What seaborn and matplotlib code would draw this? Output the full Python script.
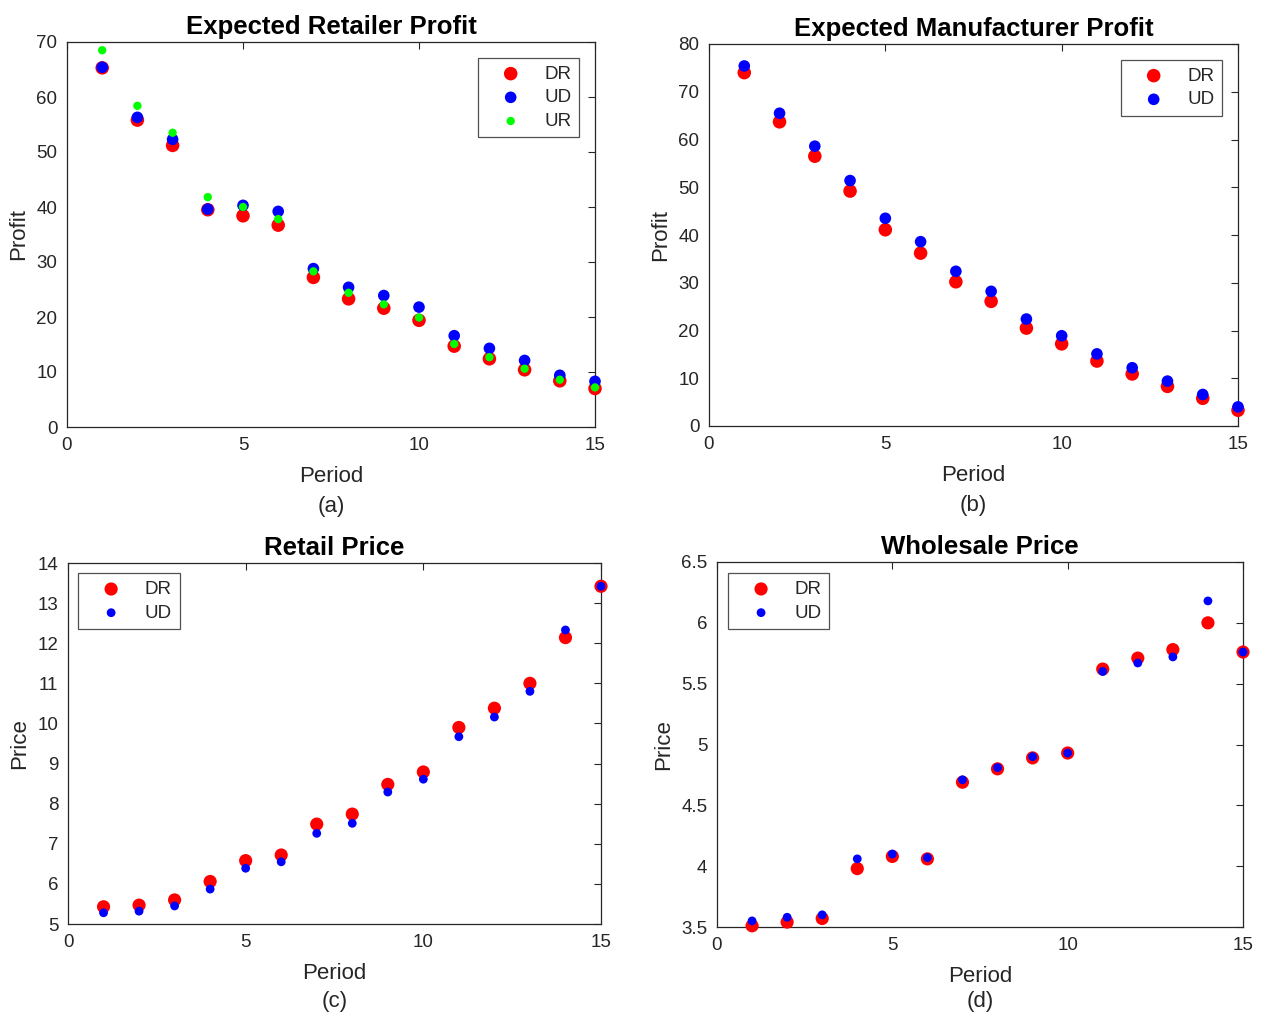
import numpy as np
import pandas as pd
import seaborn as sns
import matplotlib.pyplot as plt
from matplotlib.ticker import FuncFormatter, MultipleLocator

periods = list(range(1, 16))

# (a) expected retailer profit
ret_dr = [65.3, 55.8, 51.2, 39.5, 38.4, 36.7, 27.2, 23.3, 21.6, 19.4, 14.7, 12.4, 10.4, 8.4, 7.0]
ret_ud = [65.4, 56.3, 52.3, 39.6, 40.3, 39.2, 28.8, 25.4, 23.9, 21.8, 16.6, 14.3, 12.1, 9.4, 8.3]
ret_ur = [68.5, 58.4, 53.5, 41.8, 40.0, 37.8, 28.3, 24.4, 22.3, 19.9, 15.1, 12.7, 10.6, 8.6, 7.2]

# (b) expected manufacturer profit
man_dr = [74.0, 63.7, 56.5, 49.2, 41.1, 36.2, 30.2, 26.1, 20.5, 17.2, 13.6, 10.9, 8.3, 5.8, 3.3]
man_ud = [75.4, 65.5, 58.6, 51.4, 43.5, 38.6, 32.4, 28.2, 22.4, 18.9, 15.1, 12.2, 9.4, 6.6, 4.0]

# (c) retail price
rp_dr = [5.43, 5.47, 5.60, 6.06, 6.58, 6.72, 7.49, 7.74, 8.48, 8.79, 9.90, 10.38, 11.00, 12.14, 13.42]
rp_ud = [5.28, 5.32, 5.45, 5.87, 6.39, 6.55, 7.26, 7.51, 8.29, 8.61, 9.67, 10.16, 10.80, 12.33, 13.42]

# (d) wholesale price
wp_dr = [3.51, 3.54, 3.57, 3.98, 4.08, 4.06, 4.69, 4.80, 4.89, 4.93, 5.62, 5.71, 5.78, 6.00, 5.76]
wp_ud = [3.55, 3.58, 3.60, 4.06, 4.10, 4.07, 4.71, 4.81, 4.90, 4.93, 5.60, 5.67, 5.72, 6.18, 5.76]

sns.set_style('white')
plt.rcParams['font.family'] = ['Liberation Sans', 'DejaVu Sans']

W, H = 1261, 1015
fig = plt.figure(figsize=(W / 100, H / 100), dpi=100)


def make_ax(l, r, t, b):
    return fig.add_axes([l / W, 1 - b / H, (r - l) / W, (b - t) / H])


def style(ax, title, ylabel, cap, ylim, ystep, loc, bpad, cap_off=-50):
    ax.set_xlim(0, 15)
    ax.set_ylim(*ylim)
    ax.xaxis.set_major_locator(MultipleLocator(5))
    ax.yaxis.set_major_locator(MultipleLocator(ystep))
    ax.yaxis.set_major_formatter(FuncFormatter(lambda v, p: '%g' % round(v, 3)))
    ax.tick_params(direction='in', top=True, right=True, length=5, width=0.8,
                   labelsize=13.5, colors='#262626', pad=7)
    for s in ax.spines.values():
        s.set_color('#262626')
        s.set_linewidth(0.9)
    ax.set_title(title, fontsize=18.5, fontweight='bold', color='black', pad=6)
    ax.set_xlabel('Period', fontsize=16, color='#262626', labelpad=9)
    ax.set_ylabel(ylabel, fontsize=16, color='#262626', labelpad=5)
    ax.annotate(cap, xy=(0.5, 0), xycoords='axes fraction', xytext=(0, cap_off),
                textcoords='offset points', ha='center', va='top',
                fontsize=16, color='#262626')
    leg = ax.legend(loc=loc, fontsize=13.5, frameon=True, fancybox=False,
                    handletextpad=0.45, borderpad=0.4, labelspacing=0.35,
                    handlelength=2.7, borderaxespad=bpad)
    leg.get_frame().set_edgecolor('#262626')
    leg.get_frame().set_linewidth(0.9)


def dots(ax, y, color, s, label):
    sns.scatterplot(x=periods, y=y, ax=ax, color=color, s=s, edgecolor='none',
                    linewidth=0, label=label, zorder=3)
    ax.collections[-1].set_clip_on(False)


ax_a = make_ax(67, 595, 42, 427)
dots(ax_a, ret_dr, '#ff0000', 95, 'DR')
dots(ax_a, ret_ud, '#0000ff', 70, 'UD')
dots(ax_a, ret_ur, '#00ff00', 36, 'UR')
style(ax_a, 'Expected Retailer Profit', 'Profit', '(a)', (0, 70), 10, 'upper right', 0.85)

ax_b = make_ax(709, 1238, 44, 426)
dots(ax_b, man_dr, '#ff0000', 95, 'DR')
dots(ax_b, man_ud, '#0000ff', 70, 'UD')
style(ax_b, 'Expected Manufacturer Profit', 'Profit', '(b)', (0, 80), 10, 'upper right', 0.85)

ax_c = make_ax(68, 601, 563, 924)
dots(ax_c, rp_dr, '#ff0000', 90, 'DR')
dots(ax_c, rp_ud, '#0000ff', 40, 'UD')
style(ax_c, 'Retail Price', 'Price', '(c)', (5, 14), 1, 'upper left', 0.55, cap_off=-48)

ax_d = make_ax(717, 1243, 562, 927)
dots(ax_d, wp_dr, '#ff0000', 90, 'DR')
dots(ax_d, wp_ud, '#0000ff', 40, 'UD')
style(ax_d, 'Wholesale Price', 'Price', '(d)', (3.5, 6.5), 0.5, 'upper left', 0.6, cap_off=-46)

fig.savefig('out.png', dpi=100)
